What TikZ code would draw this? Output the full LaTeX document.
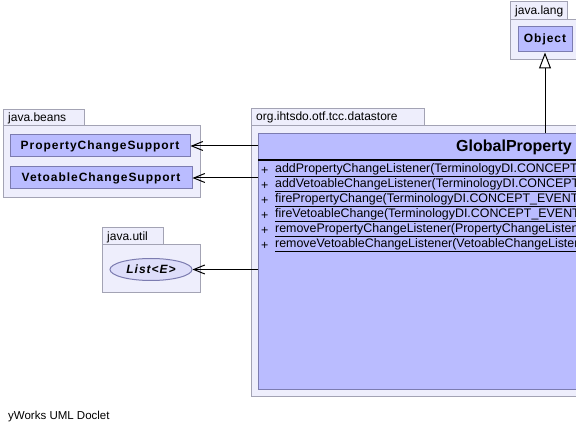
\documentclass[tikz,border=0pt]{standalone}
\usepackage{fontspec}
\setmainfont{Liberation Sans}
\newfontfamily\clsfont[LetterSpace=8]{Liberation Sans}
\usepackage{tikz}
\usetikzlibrary{arrows.meta,positioning,shapes.geometric}
\definecolor{pkgFill}{RGB}{238,238,252}
\definecolor{pkgLine}{RGB}{163,163,180}
\definecolor{clsFill}{RGB}{186,188,255}
\definecolor{clsLine}{RGB}{124,124,176}
\definecolor{ifcFill}{RGB}{222,222,250}
\tikzset{
  pkgbody/.style={draw=pkgLine, fill=pkgFill, line width=1pt},
  pkglabel/.style={anchor=west, inner sep=0pt, font=\fontsize{12}{14}\selectfont},
  clsbox/.style={draw=clsLine, fill=clsFill, line width=1pt, inner sep=0pt,
    font=\clsfont\bfseries\fontsize{12}{14}\selectfont},
  depend/.style={-{Straight Barb[length=11pt,width=9pt]}, line width=1pt},
  inherit/.style={-{Triangle[open,length=16pt,width=12pt,fill=white]}, line width=1pt},
  member/.style={anchor=west, inner sep=0pt, font=\fontsize{12.4}{14}\selectfont}
}
\begin{document}
\begin{tikzpicture}[x=1pt,y=-1pt]
    \useasboundingbox (0,0) rectangle (576,435);
    \clip (0,0) rectangle (576,435);

    % java.lang
    \draw[pkgbody] (510,2) rectangle (567,20);
    \draw[pkgbody] (510,20) rectangle (600,60);
    \node[pkglabel] (langlbl) at (515,11) {java.lang};
    \node[clsbox, minimum width=54pt, minimum height=25pt] (obj) at (545,39.5) {Object};

    % java.beans
    \draw[pkgbody] (3,110) rectangle (84,126);
    \draw[pkgbody] (3,126) rectangle (200,198);
    \node[pkglabel] (beanslbl) at (8,118) {java.beans};
    \node[clsbox, minimum width=180pt, minimum height=22pt] (pcs) at (100,146) {PropertyChangeSupport};
    \node[clsbox, minimum width=182pt, minimum height=22pt] (vcs) at (101,178) {VetoableChangeSupport};

    % java.util
    \draw[pkgbody] (102,228) rectangle (163,245);
    \draw[pkgbody] (102,245) rectangle (200,293);
    \node[pkglabel] (utillbl) at (107,237) {java.util};
    \node[ellipse, draw=clsLine, fill=ifcFill, line width=1pt, inner sep=0pt,
          minimum width=82pt, minimum height=22pt,
          font=\clsfont\bfseries\itshape\fontsize{12}{14}\selectfont] (lst) at (151,269.5) {List<E>};

    % org.ihtsdo.otf.tcc.datastore
    \draw[pkgbody] (251,109) rectangle (424,126);
    \draw[pkgbody] (251,126) rectangle (600,397);
    \node[pkglabel] (dslbl) at (256,117) {org.ihtsdo.otf.tcc.datastore};
    \node[clsbox, anchor=north west, minimum width=342pt, minimum height=256pt] (gp) at (258,133) {};
    \draw[line width=2pt] (gp.west |- 0,160) -- (600,160);
    \node[anchor=east, inner sep=0pt, font=\bfseries\fontsize{16}{18}\selectfont] (gptitle) at (572,147) {GlobalProperty};
    \foreach \m [count=\i] in {
        {addPropertyChangeListener(TerminologyDI.CONCEPT\_EVENT, PropertyChangeListener)},
        {addVetoableChangeListener(TerminologyDI.CONCEPT\_EVENT, VetoableChangeListener)},
        {firePropertyChange(TerminologyDI.CONCEPT\_EVENT, Object, Object)},
        {fireVetoableChange(TerminologyDI.CONCEPT\_EVENT, Object, Object)},
        {removePropertyChangeListener(PropertyChangeListener)},
        {removeVetoableChangeListener(VetoableChangeListener)}} {
        \node[member] (plus\i) at (261,155.5+15*\i) {+};
        \node[member] (op\i) at (275,155.5+15*\i) {\underline{\m}};
    }

    % connectors
    \draw[depend] (gp.west |- pcs.east) -- (pcs.east);
    \draw[depend] (gp.west |- vcs.east) -- (vcs.east);
    \draw[depend] (gp.west |- lst.east) -- (lst.east);
    \draw[inherit] (obj.south |- gp.north) -- (obj.south);

    \node[pkglabel, font=\fontsize{11.5}{13}\selectfont] (doclet) at (8,417) {yWorks UML Doclet};
\end{tikzpicture}
\end{document}
